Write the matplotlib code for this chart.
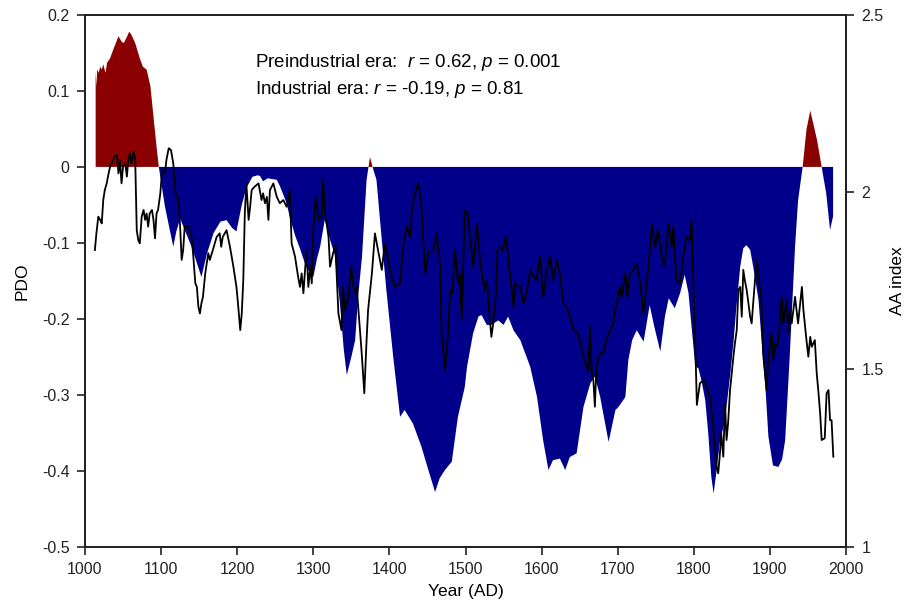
import numpy as np
import matplotlib
matplotlib.use("Agg")
import matplotlib.pyplot as plt

plt.rcParams['font.family'] = ['Liberation Sans', 'DejaVu Sans']
plt.rcParams['font.size'] = 11.5
plt.rcParams['mathtext.fontset'] = 'custom'
plt.rcParams['mathtext.rm'] = 'Liberation Sans'
plt.rcParams['mathtext.it'] = 'Liberation Sans:italic'

# PDO reconstruction (filled area, left axis)
pdo_year = [1014, 1015, 1016, 1018, 1020, 1022, 1024, 1027, 1029, 1033, 1037, 1044, 1048,
            1051, 1055, 1058, 1061, 1066, 1072, 1076, 1081, 1086, 1090, 1094, 1097, 1105,
            1116, 1120, 1125, 1140, 1153, 1160, 1169, 1178, 1186, 1193, 1199, 1206, 1212,
            1220, 1227, 1230, 1234, 1240, 1246, 1252, 1256, 1260, 1265, 1269, 1276, 1283,
            1290, 1296, 1300, 1305, 1309, 1315, 1318, 1322, 1328, 1335, 1340, 1344, 1350,
            1355, 1359, 1364, 1370, 1374.5, 1379, 1383, 1390, 1396, 1405, 1414, 1420, 1431,
            1442, 1450, 1460, 1466, 1473, 1482, 1490, 1499, 1502, 1510, 1517, 1521, 1528,
            1534, 1543, 1550, 1556, 1563, 1572, 1585, 1594, 1602, 1609, 1615, 1624, 1631,
            1637, 1646, 1655, 1664, 1670, 1677, 1688, 1697, 1701, 1710, 1714, 1719, 1725,
            1734, 1742, 1748, 1756, 1762, 1767, 1775, 1782, 1788, 1793, 1797, 1802, 1806,
            1810, 1815, 1819, 1823, 1826, 1830, 1834, 1841, 1848, 1852, 1856, 1861, 1865,
            1869, 1874, 1878, 1885, 1889, 1894, 1898, 1904, 1911, 1916, 1920, 1926, 1933,
            1937, 1943, 1948, 1953, 1957, 1962, 1968, 1974, 1979, 1983]
pdo = [0.125, 0.106, 0.128, 0.124, 0.132, 0.128, 0.135, 0.124, 0.137, 0.143, 0.154, 0.172, 0.165,
       0.163, 0.171, 0.178, 0.174, 0.163, 0.143, 0.132, 0.128, 0.106, 0.066, 0.027, 0.0, -0.052,
       -0.105, -0.085, -0.068, -0.105, -0.145, -0.115, -0.087, -0.072, -0.070, -0.080, -0.085, -0.050, -0.028,
       -0.013, -0.011, -0.012, -0.019, -0.015, -0.016, -0.017, -0.025, -0.035, -0.048, -0.066, -0.090, -0.109,
       -0.130, -0.140, -0.145, -0.120, -0.105, -0.070, -0.080, -0.096, -0.115, -0.180, -0.240, -0.274, -0.250,
       -0.228, -0.170, -0.118, -0.017, 0.013, -0.004, -0.017, -0.096, -0.162, -0.250, -0.329, -0.320, -0.338,
       -0.368, -0.395, -0.428, -0.410, -0.399, -0.388, -0.329, -0.290, -0.263, -0.219, -0.197, -0.195, -0.208,
       -0.208, -0.202, -0.208, -0.197, -0.215, -0.228, -0.263, -0.303, -0.360, -0.399, -0.386, -0.384, -0.399,
       -0.382, -0.377, -0.316, -0.285, -0.276, -0.303, -0.362, -0.320, -0.316, -0.303, -0.254, -0.228, -0.215,
       -0.230, -0.182, -0.210, -0.243, -0.197, -0.173, -0.186, -0.166, -0.142, -0.166, -0.210, -0.263, -0.265,
       -0.281, -0.307, -0.351, -0.408, -0.430, -0.399, -0.364, -0.333, -0.272, -0.232, -0.184, -0.131, -0.107,
       -0.103, -0.109, -0.131, -0.175, -0.228, -0.289, -0.355, -0.393, -0.395, -0.385, -0.360, -0.250, -0.105,
       -0.044, 0.0, 0.049, 0.074, 0.057, 0.035, 0.0, -0.035, -0.083, -0.065]

# AA index (black line, right axis)
aa_year = [1013, 1015, 1017.5, 1020, 1022, 1024, 1026, 1028.5, 1031, 1033, 1035, 1037, 1039, 1042,
           1044, 1046, 1048, 1050, 1053, 1055, 1057, 1059, 1061, 1064, 1066, 1068, 1070, 1072,
           1074.5, 1077, 1079, 1081, 1083, 1085, 1088, 1090, 1092, 1094, 1096, 1099, 1101, 1103,
           1105, 1107, 1110, 1113, 1116, 1119, 1123, 1125, 1127, 1129, 1131, 1136, 1140, 1142,
           1145, 1147, 1149, 1151, 1153, 1155, 1158, 1162, 1164, 1168, 1173, 1177, 1179, 1181,
           1186, 1190.5, 1195, 1199, 1201, 1204, 1206, 1208, 1210, 1212, 1215, 1217, 1219, 1223,
           1228, 1232, 1234, 1236.5, 1239, 1241, 1243, 1247.5, 1252, 1256, 1260.6, 1265, 1269,
           1271.5, 1276, 1280, 1282.5, 1284.7, 1287, 1291, 1293.5, 1296, 1298, 1300, 1303.5,
           1306.6, 1311, 1313, 1315, 1320, 1322, 1326, 1329, 1333, 1337, 1339, 1341.6, 1346,
           1350, 1352.5, 1355, 1357, 1359, 1363.6, 1367, 1370, 1372, 1377, 1381, 1385, 1390,
           1394, 1398.6, 1403, 1407, 1414, 1418, 1422.6, 1427, 1429, 1433.6, 1438, 1442, 1447,
           1451, 1458, 1462, 1466.5, 1468.6, 1473, 1477, 1480, 1483, 1486, 1490, 1493, 1495,
           1499, 1503, 1506, 1510, 1515, 1519, 1523, 1525, 1528, 1532, 1534, 1537, 1540, 1542,
           1545, 1549, 1553, 1556, 1558.5, 1563, 1565, 1572, 1576, 1580, 1585, 1589, 1593, 1598,
           1602, 1607, 1611, 1615, 1620, 1624, 1628.5, 1633, 1637, 1642, 1648, 1655, 1659, 1661.4,
           1663.6, 1665.8, 1668, 1670, 1672, 1677, 1681, 1685, 1690, 1694, 1699, 1703, 1705, 1710,
           1713, 1716, 1720.5, 1725, 1729, 1734, 1738, 1742, 1745, 1749, 1753, 1758, 1762, 1766.5,
           1771, 1773, 1777, 1782, 1786, 1790.5, 1795, 1797, 1799, 1802, 1804, 1808, 1812.5, 1817,
           1821, 1825.6, 1830, 1832, 1834, 1836, 1838.7, 1841, 1843, 1845, 1847.6, 1852, 1854,
           1856.4, 1858.5, 1861, 1863, 1865, 1867, 1869.5, 1874, 1876, 1878, 1882.5, 1887, 1889,
           1891, 1895.6, 1898, 1900, 1902, 1904.5, 1907, 1909, 1911, 1913, 1915.4, 1917.6, 1920,
           1922, 1924, 1926.4, 1928.6, 1933, 1937, 1942, 1944, 1948, 1950.5, 1953, 1955, 1959,
           1961.5, 1963.5, 1966, 1968, 1972, 1974.5, 1977, 1979, 1981, 1983.3]
aa = [1.837, 1.884, 1.931, 1.922, 1.912, 1.978, 2.006, 2.025, 2.053, 2.072, 2.081, 2.091, 2.100, 2.105,
      2.053, 2.091, 2.025, 2.072, 2.081, 2.044, 2.091, 2.110, 2.081, 2.114, 2.091, 1.893, 1.865, 1.856,
      1.931, 1.950, 1.922, 1.940, 1.903, 1.940, 1.950, 1.922, 1.870, 1.940, 1.950, 1.997, 2.053, 2.063,
      2.053, 2.091, 2.124, 2.119, 2.081, 1.997, 1.978, 1.903, 1.809, 1.837, 1.903, 1.903, 1.874, 1.828,
      1.743, 1.733, 1.677, 1.658, 1.687, 1.705, 1.771, 1.828, 1.809, 1.837, 1.874, 1.884, 1.846, 1.874,
      1.893, 1.846, 1.790, 1.733, 1.687, 1.611, 1.658, 1.752, 1.940, 2.025, 1.922, 1.959, 2.006, 2.016,
      2.025, 1.978, 1.997, 1.969, 1.987, 1.922, 2.006, 2.025, 1.987, 1.969, 1.978, 1.959, 2.006,
      1.856, 1.818, 1.762, 1.733, 1.771, 1.715, 1.837, 1.733, 1.790, 1.743, 1.893, 1.987,
      1.922, 1.931, 2.034, 1.950, 1.874, 1.790, 1.828, 1.850, 1.658, 1.611, 1.733, 1.668, 1.705,
      1.790, 1.733, 1.715, 1.733, 1.677, 1.546, 1.433, 1.583, 1.668, 1.771, 1.884, 1.837, 1.781,
      1.856, 1.809, 1.762, 1.733, 1.743, 1.846, 1.903, 1.874, 1.940, 1.997, 2.025, 1.969, 1.771,
      1.828, 1.837, 1.884, 1.799, 1.602, 1.498, 1.602, 1.724, 1.715, 1.837, 1.743, 1.771, 1.640,
      1.950, 1.940, 1.874, 1.790, 1.912, 1.809, 1.752, 1.724, 1.752, 1.640, 1.592, 1.640, 1.715, 1.837,
      1.846, 1.837, 1.874, 1.818, 1.771, 1.677, 1.743, 1.733, 1.687, 1.715, 1.781, 1.762, 1.752, 1.818,
      1.705, 1.781, 1.818, 1.752, 1.809, 1.771, 1.687, 1.677, 1.649, 1.611, 1.602, 1.536, 1.508, 1.498,
      1.621, 1.489, 1.470, 1.395, 1.508, 1.546, 1.546, 1.583, 1.611, 1.630, 1.696, 1.733, 1.705, 1.771,
      1.705, 1.771, 1.781, 1.799, 1.752, 1.658, 1.743, 1.828, 1.912, 1.846, 1.893, 1.818, 1.790, 1.912,
      1.846, 1.903, 1.752, 1.743, 1.818, 1.874, 1.865, 1.922, 1.771, 1.564, 1.400, 1.461, 1.470, 1.451,
      1.423, 1.339, 1.226, 1.207, 1.254, 1.320, 1.254, 1.404, 1.301, 1.348, 1.442, 1.536, 1.574,
      1.611, 1.724, 1.733, 1.649, 1.781, 1.752, 1.724, 1.649, 1.630, 1.687, 1.809, 1.724, 1.687,
      1.546, 1.442, 1.536, 1.564, 1.602, 1.527, 1.574, 1.564, 1.583, 1.630, 1.705, 1.630, 1.668,
      1.696, 1.602, 1.668, 1.630, 1.705, 1.630, 1.733, 1.668, 1.583, 1.536, 1.592, 1.564, 1.583,
      1.489, 1.442, 1.376, 1.301, 1.306, 1.433, 1.442, 1.357, 1.357, 1.254]

x = np.array(pdo_year)
y = np.array(pdo)

fig = plt.figure(figsize=(9.1, 6.07), dpi=100)
ax = fig.add_axes([0.0934, 0.0993, 0.8363, 0.876])

ax.fill_between(x, y, 0, where=y >= 0, interpolate=True, color='#8b0000', lw=0)
ax.fill_between(x, y, 0, where=y <= 0, interpolate=True, color='#00008b', lw=0)

ax.set_xlim(1000, 2000)
ax.set_ylim(-0.5, 0.2)
ax.set_xticks(range(1000, 2001, 100))
ax.set_yticks([-0.5, -0.4, -0.3, -0.2, -0.1, 0, 0.1, 0.2])
ax.set_yticklabels(['-0.5', '-0.4', '-0.3', '-0.2', '-0.1', '0', '0.1', '0.2'])
ax.set_xlabel("Year (AD)", fontsize=12.5, labelpad=5)
ax.set_ylabel("PDO", fontsize=12.5, labelpad=9)

ax2 = ax.twinx()
ax2.plot(aa_year, aa, color='black', lw=1.3)
ax2.set_ylim(1, 2.5)
ax2.set_yticks([1, 1.5, 2, 2.5])
ax2.set_yticklabels(['1', '1.5', '2', '2.5'])
ax2.set_ylabel("AA index", fontsize=12.5, labelpad=5)

for a in (ax, ax2):
    for s in a.spines.values():
        s.set_linewidth(1.3)
        s.set_color('#222222')
    a.tick_params(direction='out', length=6, width=1.2, pad=5, colors='#222222')

ax.text(0.224, 0.91, "Preindustrial era:  $r$ = 0.62, $p$ = 0.001", transform=ax.transAxes,
        fontsize=13.5, va='center')
ax.text(0.224, 0.86, "Industrial era: $r$ = -0.19, $p$ = 0.81", transform=ax.transAxes,
        fontsize=13.5, va='center')

fig.savefig("out.png", dpi=100)
